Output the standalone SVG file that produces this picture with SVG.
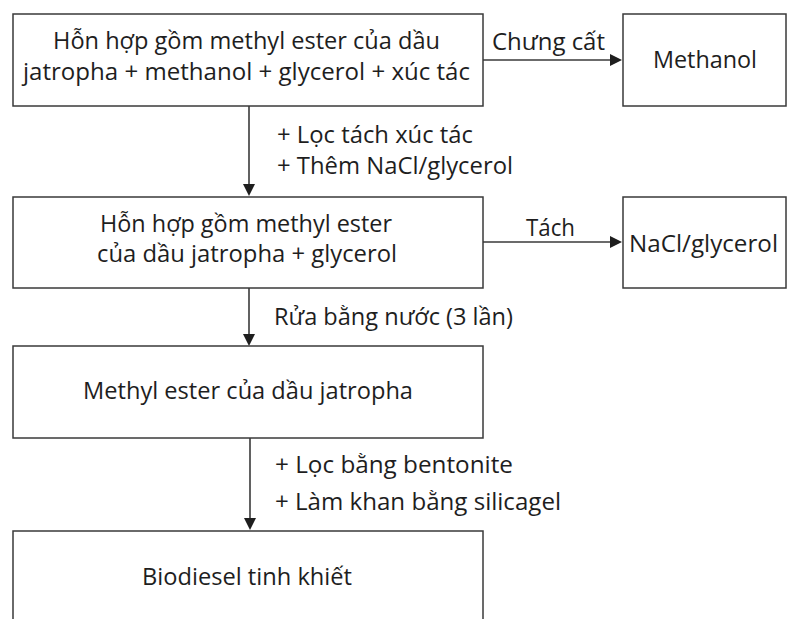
<svg xmlns="http://www.w3.org/2000/svg" width="789" height="619" viewBox="0 0 789 619">
<defs>
<style>
.box{fill:#fff;stroke:#3a3a3a;stroke-width:1.5}
.ln{stroke:#3a3a3a;stroke-width:1.6;fill:none}
.ah{fill:#1e1e1e}
text{font-family:"Open Sans","Noto Sans","DejaVu Sans",sans-serif;font-size:23px;fill:#1e1e1e}
</style>
</defs>
<rect width="789" height="619" fill="#fff"/>
<g id="connectors">
<line class="ln" x1="483" y1="60" x2="612" y2="60"/>
<polygon class="ah" points="610,54 622,60 610,66"/>
<line class="ln" x1="249" y1="106" x2="249" y2="186"/>
<polygon class="ah" points="243,184 249,196 255,184"/>
<line class="ln" x1="483" y1="242" x2="612" y2="242"/>
<polygon class="ah" points="610,236 622,242 610,248"/>
<line class="ln" x1="249" y1="288" x2="249" y2="336"/>
<polygon class="ah" points="243,334 249,346 255,334"/>
<line class="ln" x1="250" y1="438" x2="250" y2="520"/>
<polygon class="ah" points="244,518 250,530 256,518"/>
<text x="492" y="50" textLength="113" lengthAdjust="spacingAndGlyphs">Chưng cất</text>
<text x="277" y="143" textLength="196" lengthAdjust="spacingAndGlyphs">+ Lọc tách xúc tác</text>
<text x="277" y="174" textLength="236" lengthAdjust="spacingAndGlyphs">+ Thêm NaCl/glycerol</text>
<text x="526" y="236" textLength="49" lengthAdjust="spacingAndGlyphs">Tách</text>
<text x="274" y="325" textLength="239" lengthAdjust="spacingAndGlyphs">Rửa bằng nước (3 lần)</text>
<text x="275" y="473" textLength="238" lengthAdjust="spacingAndGlyphs">+ Lọc bằng bentonite</text>
<text x="275" y="510" textLength="286" lengthAdjust="spacingAndGlyphs">+ Làm khan bằng silicagel</text>
</g>
<g id="node1">
<rect class="box" x="13" y="14" width="470" height="92"/>
<text x="53" y="49" textLength="387" lengthAdjust="spacingAndGlyphs">Hỗn hợp gồm methyl ester của dầu</text>
<text x="23" y="80" textLength="447" lengthAdjust="spacingAndGlyphs">jatropha + methanol + glycerol + xúc tác</text>
</g>
<g id="methanol">
<rect class="box" x="623" y="14" width="163" height="92"/>
<text x="653" y="68" textLength="104" lengthAdjust="spacingAndGlyphs">Methanol</text>
</g>
<g id="node2">
<rect class="box" x="13" y="197" width="470" height="91"/>
<text x="100" y="232" textLength="292" lengthAdjust="spacingAndGlyphs">Hỗn hợp gồm methyl ester</text>
<text x="97" y="262" textLength="300" lengthAdjust="spacingAndGlyphs">của dầu jatropha + glycerol</text>
</g>
<g id="nacl">
<rect class="box" x="623" y="197" width="163" height="91"/>
<text x="629" y="252" textLength="149" lengthAdjust="spacingAndGlyphs">NaCl/glycerol</text>
</g>
<g id="node3">
<rect class="box" x="13" y="346" width="470" height="92"/>
<text x="83" y="399" textLength="330" lengthAdjust="spacingAndGlyphs">Methyl ester của dầu jatropha</text>
</g>
<g id="node4">
<rect class="box" x="13" y="531" width="470" height="110"/>
<text x="142" y="585" textLength="210" lengthAdjust="spacingAndGlyphs">Biodiesel tinh khiết</text>
</g>
</svg>
